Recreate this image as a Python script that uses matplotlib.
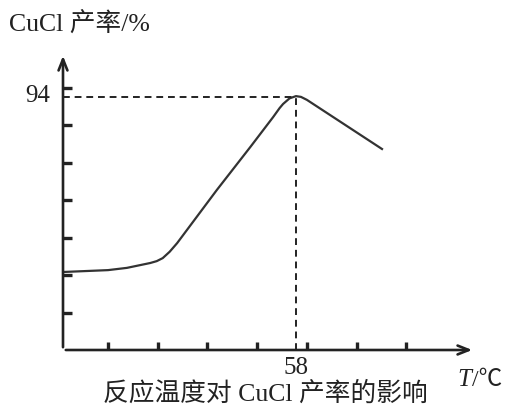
import matplotlib
matplotlib.use("Agg")
import matplotlib.pyplot as plt

# Curve (abstract axis units: x ticks at 1..7, y ticks at 1..7)
curve_x = [0.095, 1.0, 1.38, 1.85, 1.98, 2.1, 2.24, 2.39, 3.19, 3.86, 4.32, 4.45, 4.52,
           4.65, 4.78, 4.88, 5.0, 6.51]
curve_y = [2.08, 2.13, 2.19, 2.32, 2.37, 2.45, 2.62, 2.85, 4.27, 5.41, 6.21, 6.45, 6.56,
           6.71, 6.77, 6.75, 6.67, 5.36]
x_ticks = [1, 2, 3, 4, 5, 6, 7]
y_ticks = [1, 2, 3, 4, 5, 6, 7]
peak_x = 4.78
peak_y = 6.77
peak_x_label = "58"
peak_y_label = "94"
y_title = "CuCl 产率/%"
x_title_var = "T"
x_title_unit = "/℃"
caption = "反应温度对 CuCl 产率的影响"

fam = ["Liberation Serif", "Noto Sans CJK SC"]
plt.rcParams["font.family"] = fam

W, H = 515, 412
fig = plt.figure(figsize=(W / 100, H / 100), dpi=100)
x0, y0, x1, y1 = 63, 350, 475, 53
ax = fig.add_axes([x0 / W, (H - y0) / H, (x1 - x0) / W, (y0 - y1) / H])
xmin, xmax = 0.095, 8.38
ymin, ymax = 0.0, 7.92
ax.set_xlim(xmin, xmax)
ax.set_ylim(ymin, ymax)
for s in ax.spines.values():
    s.set_visible(False)

col = "#222222"
ax.annotate("", xy=(xmax, 0), xytext=(xmin, 0),
            arrowprops=dict(arrowstyle="->,head_length=0.8,head_width=0.32", lw=1.9, color=col),
            annotation_clip=False)
ax.annotate("", xy=(xmin, ymax), xytext=(xmin, 0),
            arrowprops=dict(arrowstyle="->,head_length=0.8,head_width=0.32", lw=1.9, color=col),
            annotation_clip=False)

for t in x_ticks:
    ax.plot([t, t], [0, 0.22], color=col, lw=2.4, solid_capstyle="butt")
for t in y_ticks:
    ax.plot([xmin, xmin + 0.19], [t, t], color=col, lw=2.4, solid_capstyle="butt")
ax.set_xticks([])
ax.set_yticks([])

ax.plot(curve_x, curve_y, color="#333333", lw=1.6, solid_joinstyle="round")

ax.plot([xmin, peak_x], [peak_y - 0.02, peak_y - 0.02], color=col, lw=1.4, dashes=(3.5, 2.5))
ax.plot([peak_x, peak_x], [0, peak_y], color=col, lw=1.4, dashes=(3.5, 2.5))

ax.text(peak_x, -0.18, peak_x_label, ha="center", va="top", fontsize=18, color=col)
ax.text(xmin - 0.25, peak_y, peak_y_label, ha="right", va="center", fontsize=18, color=col)

fig.text(9 / W, 1 - 25 / H, y_title, ha="left", va="center", fontsize=18.5, color=col, family=fam)
fig.text(457 / W, 1 - 380 / H, x_title_var, ha="left", va="center", fontsize=18, color=col,
         family="Liberation Serif", style="italic")
fig.text(472 / W, 1 - 380 / H, x_title_unit, ha="left", va="center", fontsize=17, color=col,
         family=["Liberation Serif", "Noto Sans CJK SC", "DejaVu Sans"])
fig.text(265 / W, 1 - 394 / H, caption, ha="center", va="center", fontsize=18.5, color=col, family=fam)

fig.savefig("out.png", dpi=100)
